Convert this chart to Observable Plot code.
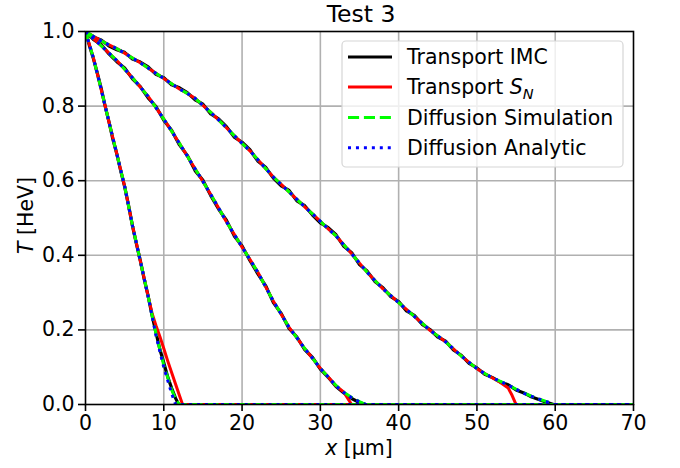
<!DOCTYPE html>
<html><head><meta charset="utf-8">
<script src="https://cdn.jsdelivr.net/npm/d3@7"></script>
<script src="https://cdn.jsdelivr.net/npm/@observablehq/plot@0.6"></script>
<style>html,body{margin:0;padding:0;background:#fff;} #chart{width:680px;height:468px;}</style>
</head><body><div id="chart"></div>
<script>
// ---------- tick labels ----------
const xTicks = [0, 10, 20, 30, 40, 50, 60, 70];
const yTicks = [0, 0.2, 0.4, 0.6, 0.8, 1.0];
const titleText = "Test 3";
const legendNames = ["Transport IMC", "Transport S_N", "Diffusion Simulation", "Diffusion Analytic"];

// ---------- curve 1 (earliest time) ----------
const imcX1 = [0,0.5,1,1.5,2,2.5,3,3.5,4,4.5,5,5.5,6,6.5,7,7.5,8,8.5,9,9.5,10,10.5,11,11.5,11.9,70];
const imcT1 = [1,0.962,0.928,0.889,0.848,0.801,0.758,0.711,0.672,0.626,0.584,0.534,0.479,0.431,0.386,0.336,0.291,0.239,0.193,0.148,0.112,0.074,0.044,0.017,0,0];
const snX1 = [0,1,2,3,4,5,6,7,8,8.5,9,9.5,10,10.5,11,11.5,12,12.4,70];
const snT1 = [1,0.93,0.845,0.757,0.672,0.585,0.48,0.385,0.29,0.245,0.212,0.182,0.15,0.117,0.086,0.055,0.024,0,0];
const simX1 = [0,1,2,3,4,5,6,7,8,9,10,11,11.5,12,70];
const simT1 = [1,0.93,0.845,0.757,0.672,0.585,0.48,0.385,0.29,0.19,0.105,0.04,0.015,0,0];
const anaX1 = [0,1,2,3,4,5,6,7,8,9,10,11,11.5,70];
const anaT1 = [1,0.93,0.845,0.757,0.672,0.585,0.48,0.385,0.29,0.185,0.10,0.03,0,0];

// ---------- curve 2 ----------
const gridX2 = [0,1,2,3,4,5,6,7,8,9,10,11,12,13,14,15,16,17,18,19,20,21,22,23,24,25,26,27,28,29,30,31,32,33,34,35,35.8,70];
const imcT2 = [1,0.979,0.965,0.940,0.919,0.902,0.873,0.852,0.822,0.799,0.762,0.735,0.696,0.668,0.627,0.601,0.560,0.524,0.494,0.452,0.425,0.386,0.351,0.319,0.273,0.244,0.204,0.181,0.147,0.126,0.095,0.073,0.048,0.031,0.016,0.005,0,0];
const simT2 = [1,0.981,0.962,0.942,0.922,0.899,0.876,0.851,0.826,0.796,0.765,0.733,0.700,0.666,0.632,0.598,0.563,0.527,0.490,0.456,0.422,0.389,0.355,0.316,0.277,0.242,0.207,0.179,0.150,0.124,0.097,0.074,0.051,0.033,0.019,0.008,0,0];
const anaT2 = [1,0.981,0.962,0.942,0.922,0.899,0.876,0.851,0.826,0.796,0.765,0.733,0.700,0.666,0.632,0.598,0.563,0.527,0.490,0.456,0.422,0.389,0.355,0.316,0.277,0.242,0.207,0.179,0.150,0.124,0.097,0.074,0.050,0.032,0.018,0.007,0,0];
const snX2 = [0,1,2,3,4,5,6,7,8,9,10,11,12,13,14,15,16,17,18,19,20,21,22,23,24,25,26,27,28,29,30,31,32,33,33.5,34,70];
const snT2 = [1,0.981,0.962,0.942,0.922,0.899,0.876,0.851,0.826,0.796,0.765,0.733,0.700,0.666,0.632,0.598,0.563,0.527,0.490,0.456,0.422,0.389,0.355,0.316,0.277,0.242,0.207,0.179,0.150,0.124,0.097,0.074,0.050,0.033,0.016,0,0];

// ---------- curve 3 (latest time) ----------
const gridX3 = [0,1,2,3,4,5,6,7,8,9,10,11,12,13,14,15,16,17,18,19,20,21,22,23,24,25,26,27,28,29,30,31,32,33,34,35,36,37,38,39,40,41,42,43,44,45,46,47,48,49,50,51,52,53,54,55,56,57,58,59,59.8,70];
const imcT3 = [1,0.985,0.977,0.961,0.951,0.944,0.926,0.918,0.905,0.885,0.876,0.857,0.849,0.836,0.817,0.805,0.779,0.766,0.745,0.717,0.703,0.683,0.653,0.636,0.607,0.586,0.574,0.546,0.533,0.508,0.487,0.474,0.455,0.424,0.407,0.375,0.357,0.329,0.313,0.289,0.276,0.251,0.239,0.215,0.201,0.181,0.170,0.146,0.132,0.110,0.098,0.081,0.072,0.060,0.053,0.039,0.031,0.020,0.013,0.005,0,0];
const simT3 = [1,0.987,0.975,0.964,0.954,0.942,0.929,0.916,0.902,0.888,0.874,0.860,0.846,0.834,0.821,0.802,0.783,0.763,0.742,0.721,0.700,0.680,0.657,0.633,0.610,0.590,0.570,0.550,0.530,0.511,0.491,0.471,0.452,0.428,0.404,0.379,0.354,0.332,0.310,0.292,0.273,0.255,0.236,0.218,0.199,0.184,0.168,0.149,0.130,0.113,0.096,0.083,0.071,0.062,0.052,0.041,0.031,0.022,0.014,0.007,0,0];
const anaT3 = [1,0.987,0.975,0.964,0.954,0.942,0.929,0.916,0.902,0.888,0.874,0.860,0.846,0.834,0.821,0.802,0.783,0.763,0.742,0.721,0.700,0.680,0.657,0.633,0.610,0.590,0.570,0.550,0.530,0.511,0.491,0.471,0.452,0.428,0.404,0.379,0.354,0.332,0.310,0.292,0.273,0.255,0.236,0.218,0.199,0.184,0.168,0.149,0.130,0.113,0.096,0.083,0.071,0.062,0.052,0.041,0.030,0.022,0.014,0.007,0,0];
const snX3 = [0,1,2,3,4,5,6,7,8,9,10,11,12,13,14,15,16,17,18,19,20,21,22,23,24,25,26,27,28,29,30,31,32,33,34,35,36,37,38,39,40,41,42,43,44,45,46,47,48,49,50,51,52,53,54,54.5,55,70];
const snT3 = [1,0.987,0.975,0.964,0.954,0.942,0.929,0.916,0.902,0.888,0.874,0.860,0.846,0.834,0.821,0.802,0.783,0.763,0.742,0.721,0.700,0.680,0.657,0.633,0.610,0.590,0.570,0.550,0.530,0.511,0.491,0.471,0.452,0.428,0.404,0.379,0.354,0.332,0.310,0.292,0.273,0.255,0.236,0.218,0.199,0.184,0.168,0.149,0.130,0.113,0.096,0.083,0.071,0.059,0.044,0.024,0,0];

// ---------- build table ----------
const rows = [];
function add(series, curve, xs, ts) { xs.forEach((x, i) => rows.push({series, curve, x, T: ts[i]})); }
add("imc", 1, imcX1, imcT1); add("imc", 2, gridX2, imcT2); add("imc", 3, gridX3, imcT3);
add("sn", 1, snX1, snT1);    add("sn", 2, snX2, snT2);     add("sn", 3, snX3, snT3);
add("sim", 1, simX1, simT1); add("sim", 2, gridX2, simT2); add("sim", 3, gridX3, simT3);
add("ana", 1, anaX1, anaT1); add("ana", 2, gridX2, anaT2); add("ana", 3, gridX3, anaT3);
const of = s => rows.filter(d => d.series === s);

const W = 680, H = 468, mL = 85, mR = 47, mT = 31, mB = 64;
const FS = 20.5;
const styles = {
  imc: {stroke: "black", strokeWidth: 3.2},
  sn:  {stroke: "#ff0000", strokeWidth: 3},
  sim: {stroke: "#00ff00", strokeWidth: 3, strokeDasharray: "11.1,4.8", strokeLinecap: "butt"},
  ana: {stroke: "#0000ff", strokeWidth: 3, strokeDasharray: "3,4.95", strokeLinecap: "butt"}
};

const svg = Plot.plot({
  width: W, height: H, marginLeft: mL, marginRight: mR, marginTop: mT, marginBottom: mB,
  style: {fontFamily: "DejaVu Sans", fontSize: FS + "px", color: "black", background: "white", overflow: "visible"},
  x: {domain: [0, 70], label: null},
  y: {domain: [0, 1], label: null},
  marks: [
    Plot.gridX({ticks: xTicks.slice(1, -1), stroke: "#b0b0b0", strokeOpacity: 1, strokeWidth: 1.6}),
    Plot.gridY({ticks: yTicks.slice(1, -1), stroke: "#b0b0b0", strokeOpacity: 1, strokeWidth: 1.6}),
    ...["imc", "sn", "sim", "ana"].map(s => Plot.line(of(s), {x: "x", y: "T", z: "curve", clip: true, strokeLinejoin: "round", ...styles[s]})),
    Plot.frame({stroke: "black", strokeWidth: 1.6}),
    Plot.axisX({ticks: xTicks, tickSize: 7, tickPadding: 4, strokeWidth: 1.6, fontSize: FS, label: null, tickFormat: d => String(d)}),
    Plot.axisY({ticks: yTicks, tickSize: 7, tickPadding: 4, strokeWidth: 1.6, fontSize: FS, label: null, tickFormat: d3.format(".1f")})
  ]
});
document.getElementById("chart").appendChild(svg);

const s = d3.select(svg);
const cx = (mL + (W - mR)) / 2;
// title
s.append("text").attr("x", cx + 2).attr("y", 22).attr("text-anchor", "middle")
  .attr("font-size", 23.5).attr("fill", "black").text(titleText);
// x label
const xl = s.append("text").attr("x", cx).attr("y", 455).attr("text-anchor", "middle").attr("font-size", FS).attr("fill", "black");
xl.append("tspan").attr("font-style", "italic").text("x");
xl.append("tspan").text(" [μm]");
// y label
const yl = s.append("text").attr("transform", `translate(33,${(mT + H - mB) / 2 - 2}) rotate(-90)`).attr("text-anchor", "middle").attr("font-size", FS).attr("fill", "black");
yl.append("tspan").attr("font-style", "italic").text("T");
yl.append("tspan").text(" [HeV]");

// legend
const lg = s.append("g").attr("text-anchor", "start");
lg.append("rect").attr("x", 342).attr("y", 41).attr("width", 281).attr("height", 126).attr("rx", 4)
  .attr("fill", "white").attr("fill-opacity", 0.8).attr("stroke", "#d6d6d6").attr("stroke-width", 1.2);
const keys = ["imc", "sn", "sim", "ana"];
const rowY = [57, 87, 117.5, 147.7];
keys.forEach((k, i) => {
  const st = styles[k];
  lg.append("line").attr("x1", 348).attr("x2", 392).attr("y1", rowY[i]).attr("y2", rowY[i])
    .attr("stroke", st.stroke).attr("stroke-width", 3)
    .attr("stroke-dasharray", st.strokeDasharray || null).attr("stroke-linecap", "butt");
  const t = lg.append("text").attr("x", 407).attr("y", rowY[i] + 7).attr("text-anchor", "start")
    .attr("font-size", FS).attr("fill", "black");
  const name = legendNames[i];
  if (name.includes("_")) {
    const [pre, sub] = name.split("_");
    const parts = pre.split(" ");
    t.append("tspan").text(parts[0] + " ");
    t.append("tspan").attr("font-style", "italic").text(parts[1]);
    t.append("tspan").attr("font-style", "italic").attr("font-size", 14.5).attr("dy", 5).text(sub);
  } else {
    t.text(name);
  }
});
</script>
</body></html>
